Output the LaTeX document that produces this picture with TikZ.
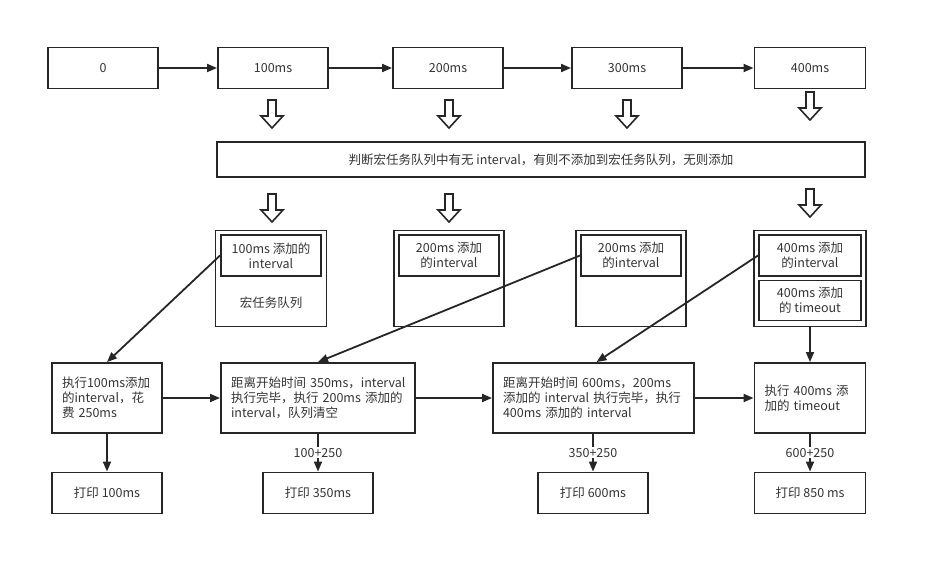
\documentclass[tikz,border=0pt]{standalone}
\usepackage{fontspec}
\setmainfont{Noto Sans CJK SC}
\usetikzlibrary{arrows.meta}
\begin{document}
\begin{tikzpicture}[x=1pt,y=-1pt,
  every node/.style={font=\fontsize{12.5}{15}\selectfont, text=black!80},
  box/.style={draw=black!85, line width=1.9pt, inner sep=0pt, align=center},
  lbox/.style={box, align=left, inner xsep=10pt, text width=#1},
  conn/.style={draw=black!85, line width=1.8pt, -{Triangle[length=10pt,width=8pt]}},
  lbl/.style={fill=white, inner sep=1pt},
  hollowdown/.pic={\draw[draw=black!85, line width=1.6pt, fill=white, line join=miter]
      (-4,0) -- (4,0) -- (4,16) -- (11,16) -- (0,28) -- (-11,16) -- (-4,16) -- cycle;}
]
\useasboundingbox (0,0) rectangle (927,575);

% top row
\node[box, minimum width=110, minimum height=41] (T0) at (103,68) {0};
\node[box, minimum width=110, minimum height=41] (T1) at (273,68) {100ms};
\node[box, minimum width=110, minimum height=41] (T2) at (448,68) {200ms};
\node[box, minimum width=110, minimum height=41] (T3) at (627,68) {300ms};
\node[box, minimum width=111, minimum height=41] (T4) at (810,68) {400ms};
\draw[conn] (T0) -- (T1);
\draw[conn] (T1) -- (T2);
\draw[conn] (T2) -- (T3);
\draw[conn] (T3) -- (T4);

\pic at (272,100) {hollowdown};
\pic at (449,100) {hollowdown};
\pic at (627,100) {hollowdown};
\pic at (810,92) {hollowdown};

% judgement box
\node[box, minimum width=648, minimum height=35] (J) at (541,159.5)
  {判断宏任务队列中有无 interval，有则不添加到宏任务队列，无则添加};

\pic at (272,194) {hollowdown};
\pic at (449,194) {hollowdown};
\pic at (810,189) {hollowdown};

% queues
\node[box, minimum width=111, minimum height=96] (Q1) at (271,278.5) {};
\node[box, minimum width=100, minimum height=41] (Q1a) at (271,255.5) {100ms 添加的\\interval};
\node (Q1t) at (271,303) {宏任务队列};

\node[box, minimum width=110, minimum height=96] (Q2) at (449,278.5) {};
\node[box, minimum width=100, minimum height=41] (Q2a) at (449,255.5) {200ms 添加\\的interval};

\node[box, minimum width=110, minimum height=96] (Q3) at (631,278.5) {};
\node[box, minimum width=100, minimum height=41] (Q3a) at (631,255.5) {200ms 添加\\的interval};

\node[box, minimum width=112, minimum height=96] (Q4) at (810,278.5) {};
\node[box, minimum width=102, minimum height=41] (Q4a) at (810,255.5) {400ms 添加\\的interval};
\node[box, minimum width=102, minimum height=40] (Q4b) at (810,300.5) {400ms 添加\\的 timeout};

% execution row
\node[lbox=90pt, minimum width=110, minimum height=70] (E1) at (107,398)
  {执行100ms添加\\的interval，花\\费~250ms};
\node[lbox=174pt, minimum width=194, minimum height=70] (E2) at (318,398)
  {距离开始时间~350ms，interval\\执行完毕，执行~200ms~添加的\\interval，队列清空};
\node[lbox=181pt, minimum width=201, minimum height=70] (E3) at (593.5,398)
  {距离开始时间~600ms，200ms\\添加的~interval~执行完毕，执行\\400ms~添加的~interval};
\node[lbox=91pt, minimum width=111, minimum height=70] (E4) at (810,398)
  {执行~400ms~添\\加的~timeout};

\draw[conn] (E1) -- (E2);
\draw[conn] (E2) -- (E3);
\draw[conn] (E3) -- (E4);

\draw[conn] (Q1a.west) -- (E1.north);
\draw[conn] (Q3a.west) -- (E2.north);
\draw[conn] (Q4a.west) -- ([xshift=3pt]E3.north);
\draw[conn] (Q4.south) -- (E4.north);

% print row
\node[box, minimum width=110, minimum height=41] (P1) at (107,493) {打印 100ms};
\node[box, minimum width=110, minimum height=41] (P2) at (318,493) {打印 350ms};
\node[box, minimum width=110, minimum height=41] (P3) at (593,493) {打印 600ms};
\node[box, minimum width=111, minimum height=41] (P4) at (810,493) {打印 850 ms};

\draw[conn] (E1) -- (P1);
\draw[conn] (E2) -- node[lbl] {100+250} (P2);
\draw[conn] (E3.south -| P3) -- node[lbl] {350+250} (P3);
\draw[conn] (E4) -- node[lbl] {600+250} (P4);
\end{tikzpicture}
\end{document}
